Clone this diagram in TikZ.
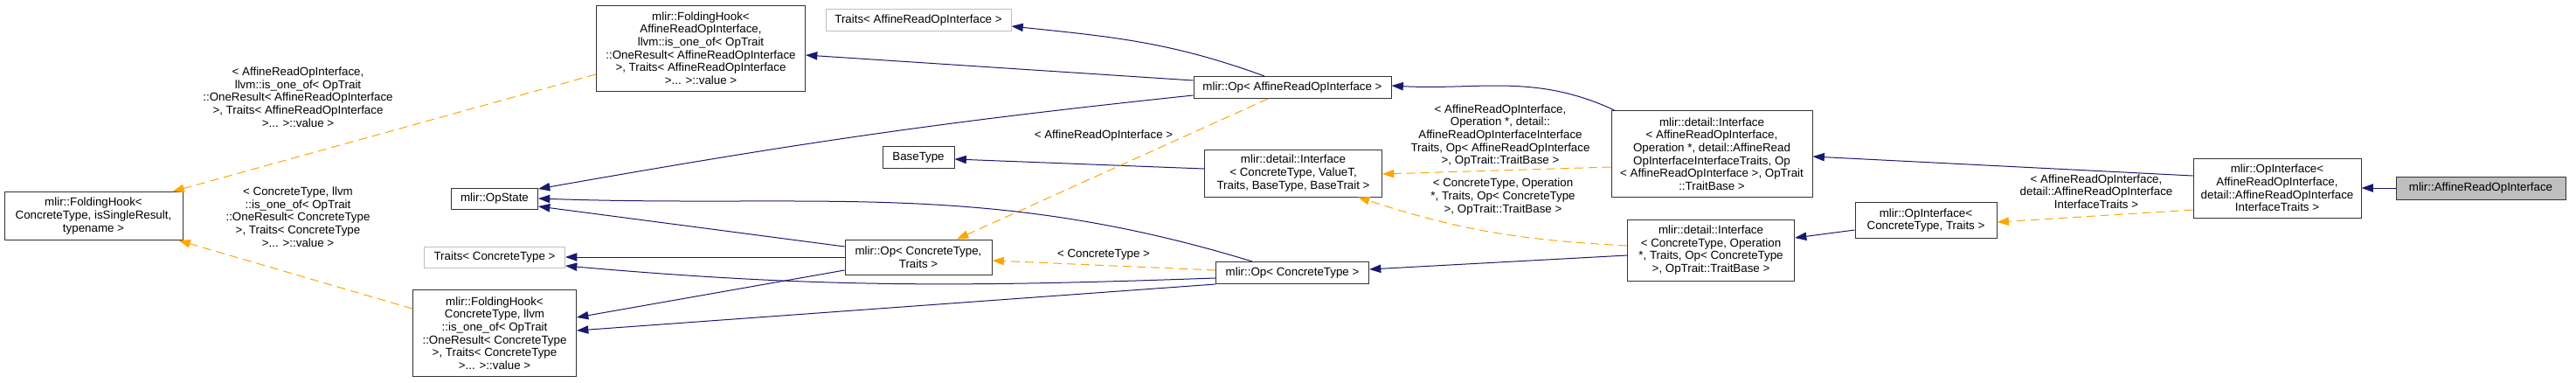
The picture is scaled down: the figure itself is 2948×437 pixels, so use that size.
\documentclass[tikz,border=0pt]{standalone}
\usepackage{fontspec}
\setmainfont{Liberation Sans}
\usetikzlibrary{arrows.meta, calc}
\definecolor{edgeblue}{HTML}{191970}
\definecolor{edgeorange}{HTML}{FFA500}
\definecolor{undocgray}{HTML}{BFBFBF}
\newcommand{\doxfont}{\fontsize{10}{11}\selectfont}

\begin{document}
\begin{tikzpicture}[
  x=0.75pt, y=-0.75pt,
  font=\doxfont,
  cls/.style={rectangle, draw=black!80, line width=0.75pt, fill=white, align=center, inner xsep=2pt, inner ysep=1pt},
  ucls/.style={cls, draw=undocgray},
  scls/.style={cls, fill=undocgray},
  boxsize/.style 2 args={minimum width=#1*0.75pt, minimum height=#2*0.75pt},
  pub/.style={->, draw=edgeblue, line width=0.75pt},
  tpl/.style={->, draw=edgeorange, line width=0.75pt, dash pattern=on 7.5pt off 4.5pt},
  elab/.style={align=center, inner sep=0pt},
  >={Triangle[length=10pt, width=7pt]}
]
  \useasboundingbox (0,0) rectangle (2948,437);

  % classes, left to right
  \node[cls, boxsize={204}{55}] (fh) at (107,247) {mlir::FoldingHook<\\ ConcreteType, isSingleResult,\\typename >};
  \node[cls, boxsize={239}{98}] (fhA) at (802,55) {mlir::FoldingHook<\\ AffineReadOpInterface,\\ llvm::is\_one\_of< OpTrait\\::OneResult< AffineReadOpInterface\\>, Traits< AffineReadOpInterface\\>... >::value >};
  \node[cls, boxsize={99}{24}] (opst) at (566,227) {mlir::OpState};
  \node[ucls, boxsize={161}{24}] (trC) at (566,294) {Traits< ConcreteType >};
  \node[cls, boxsize={187}{99}] (fhC) at (566,381) {mlir::FoldingHook<\\ ConcreteType, llvm\\::is\_one\_of< OpTrait\\::OneResult< ConcreteType\\>, Traits< ConcreteType\\>... >::value >};
  \node[ucls, boxsize={212}{25}] (trA) at (1051,23) {Traits< AffineReadOpInterface >};
  \node[cls, boxsize={82}{25}] (basety) at (1051,180) {BaseType};
  \node[cls, boxsize={168}{40}] (opCT) at (1051,294) {mlir::Op< ConcreteType,\\Traits >};
  \node[cls, boxsize={226}{25}] (opA) at (1479,100) {mlir::Op< AffineReadOpInterface >};
  \node[cls, boxsize={203}{54}] (ifV) at (1480,198) {mlir::detail::Interface\\< ConcreteType, ValueT,\\ Traits, BaseType, BaseTrait >};
  \node[cls, boxsize={175}{25}] (opC) at (1479,312) {mlir::Op< ConcreteType >};
  \node[cls, boxsize={230}{99}] (ifA) at (1959,176) {mlir::detail::Interface\\< AffineReadOpInterface,\\ Operation *, detail::AffineRead\\OpInterfaceInterfaceTraits, Op\\< AffineReadOpInterface >, OpTrait\\::TraitBase >};
  \node[cls, boxsize={191}{70}] (ifC) at (1958,286) {mlir::detail::Interface\\< ConcreteType, Operation\\ *, Traits, Op< ConcreteType\\>, OpTrait::TraitBase >};
  \node[cls, boxsize={162}{41}] (opifC) at (2204,252) {mlir::OpInterface<\\ ConcreteType, Traits >};
  \node[cls, boxsize={192}{68}] (opifA) at (2606,215) {mlir::OpInterface<\\ AffineReadOpInterface,\\ detail::AffineReadOpInterface\\InterfaceTraits >};
  \node[scls, boxsize={194}{26}] (aroi) at (2839,215) {mlir::AffineReadOpInterface};

  % template arguments
  \node[elab] (lfhA) at (341,111) {< AffineReadOpInterface,\\llvm::is\_one\_of< OpTrait\\::OneResult< AffineReadOpInterface\\>, Traits< AffineReadOpInterface\\>... >::value >};
  \node[elab] (lfhC) at (341,248) {< ConcreteType, llvm\\::is\_one\_of< OpTrait\\::OneResult< ConcreteType\\>, Traits< ConcreteType\\>... >::value >};
  \node[elab] (lopA) at (1263,155) {< AffineReadOpInterface >};
  \node[elab] (lopC) at (1263,291) {< ConcreteType >};
  \node[elab] (lifA) at (1717,155) {< AffineReadOpInterface,\\ Operation *, detail::\\AffineReadOpInterfaceInterface\\Traits, Op< AffineReadOpInterface\\>, OpTrait::TraitBase >};
  \node[elab] (lifC) at (1720,225) {< ConcreteType, Operation\\*, Traits, Op< ConcreteType\\>, OpTrait::TraitBase >};
  \node[elab] (lopif) at (2399,219) {< AffineReadOpInterface,\\detail::AffineReadOpInterface\\InterfaceTraits >};

  % OpInterface
  \draw[pub] (aroi.west) -- (opifA.east);
  \draw[pub] ($(opifA.west)+(0,-14)$) -- ($(ifA.east)+(0,3)$);
  \draw[tpl] ($(opifA.west)+(0,25)$) -- ($(opifC.east)+(0,2)$);
  \draw[pub] ($(opifC.west)+(0,11)$) -- ($(ifC.east)+(0,-14)$);

  % detail::Interface
  \draw[pub] ($(ifA.north west)+(4,0)$) to[out=155, in=-3] ($(opA.east)+(0,-2)$);
  \draw[tpl] ($(ifA.west)+(0,15)$) -- ($(ifV.east)+(0,1)$);
  \draw[pub] ($(ifC.west)+(0,6)$) -- ($(opC.east)+(0,-4)$);
  \draw[tpl] ($(ifC.west)+(0,-5)$) to[out=177, in=-18] ($(ifV.south east)+(-28,0)$);
  \draw[pub] ($(ifV.west)+(0,-5)$) -- ($(basety.east)+(0,2)$);

  % Op< AffineReadOpInterface >
  \draw[pub] ($(opA.north)+(-32,0)$) to[out=160, in=-6] ($(trA.east)+(0,7)$);
  \draw[pub] ($(opA.west)+(0,-8)$) -- ($(fhA.east)+(0,8)$);
  \draw[pub] ($(opA.west)+(0,9)$) to[out=186, in=10] ($(opst.east)+(0,-11)$);
  \draw[tpl] ($(opA.south)+(-28,0)$) -- ($(opCT.north)+(44,0)$);

  % Op< ConcreteType >
  \draw[tpl] ($(opC.west)+(0,-3)$) -- ($(opCT.east)+(0,4)$);
  \draw[pub] ($(opC.north)+(-46,0)$) to[out=163, in=-2] (opst.east);
  \draw[pub] ($(opC.west)+(0,6)$) to[out=182, in=-5] ($(trC.east)+(0,10)$);
  \draw[pub] ($(opC.west)+(0,13)$) -- ($(fhC.east)+(0,-3)$);

  % Op< ConcreteType, Traits >
  \draw[pub] ($(opCT.west)+(0,-12)$) -- ($(opst.east)+(0,9)$);
  \draw[pub] (opCT.west) -- (trC.east);
  \draw[pub] ($(opCT.west)+(0,15)$) -- ($(fhC.east)+(0,-18)$);

  % FoldingHook
  \draw[tpl] ($(fhA.west)+(0,30)$) -- ($(fh.north east)+(-12,0)$);
  \draw[tpl] ($(fhC.west)+(0,-28)$) -- ($(fh.south east)+(-5,0)$);
\end{tikzpicture}
\end{document}
